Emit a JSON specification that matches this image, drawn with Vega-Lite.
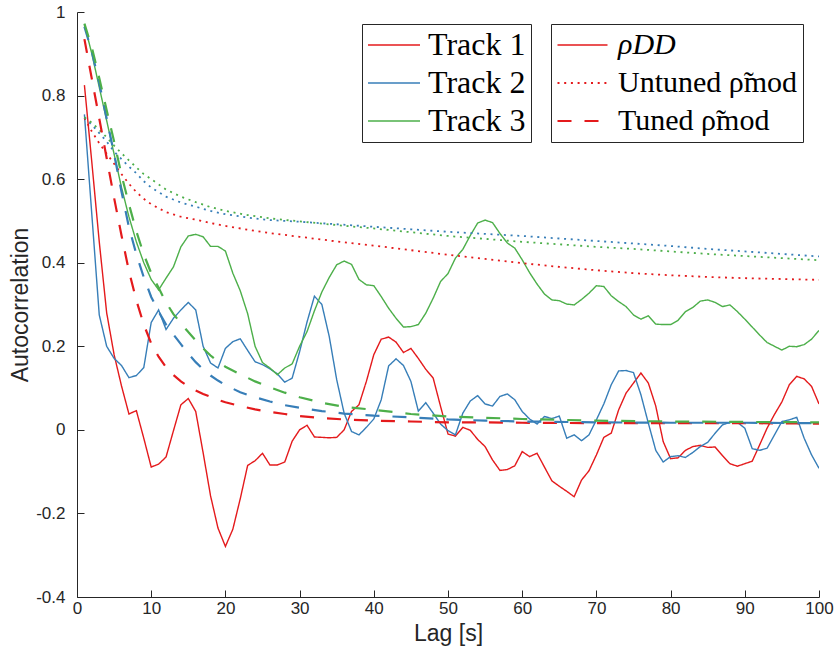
{
  "$schema": "https://vega.github.io/schema/vega-lite/v6.json",
  "autosize": "none",
  "width": 742,
  "height": 585,
  "padding": {"left": 77, "top": 12, "right": 16, "bottom": 63},
  "background": "white",
  "config": {"view": {"stroke": null}},
  "data": {"values": [
{"lag":1,"track":"Track 1","type":"rho","value":0.825},{"lag":2,"track":"Track 1","type":"rho","value":0.64},{"lag":3,"track":"Track 1","type":"rho","value":0.45},{"lag":4,"track":"Track 1","type":"rho","value":0.28},{"lag":5,"track":"Track 1","type":"rho","value":0.18},{"lag":6,"track":"Track 1","type":"rho","value":0.105},{"lag":7,"track":"Track 1","type":"rho","value":0.038},{"lag":8,"track":"Track 1","type":"rho","value":0.046},{"lag":9,"track":"Track 1","type":"rho","value":-0.02},{"lag":10,"track":"Track 1","type":"rho","value":-0.089},
{"lag":11,"track":"Track 1","type":"rho","value":-0.082},{"lag":12,"track":"Track 1","type":"rho","value":-0.065},{"lag":13,"track":"Track 1","type":"rho","value":-0.002},{"lag":14,"track":"Track 1","type":"rho","value":0.06},{"lag":15,"track":"Track 1","type":"rho","value":0.075},{"lag":16,"track":"Track 1","type":"rho","value":0.044},{"lag":17,"track":"Track 1","type":"rho","value":-0.055},{"lag":18,"track":"Track 1","type":"rho","value":-0.158},{"lag":19,"track":"Track 1","type":"rho","value":-0.235},{"lag":20,"track":"Track 1","type":"rho","value":-0.279},
{"lag":21,"track":"Track 1","type":"rho","value":-0.238},{"lag":22,"track":"Track 1","type":"rho","value":-0.165},{"lag":23,"track":"Track 1","type":"rho","value":-0.085},{"lag":24,"track":"Track 1","type":"rho","value":-0.074},{"lag":25,"track":"Track 1","type":"rho","value":-0.056},{"lag":26,"track":"Track 1","type":"rho","value":-0.084},{"lag":27,"track":"Track 1","type":"rho","value":-0.084},{"lag":28,"track":"Track 1","type":"rho","value":-0.077},{"lag":29,"track":"Track 1","type":"rho","value":-0.027},{"lag":30,"track":"Track 1","type":"rho","value":0.0},
{"lag":31,"track":"Track 1","type":"rho","value":0.011},{"lag":32,"track":"Track 1","type":"rho","value":-0.017},{"lag":33,"track":"Track 1","type":"rho","value":-0.018},{"lag":34,"track":"Track 1","type":"rho","value":-0.019},{"lag":35,"track":"Track 1","type":"rho","value":-0.018},{"lag":36,"track":"Track 1","type":"rho","value":0.0},{"lag":37,"track":"Track 1","type":"rho","value":0.044},{"lag":38,"track":"Track 1","type":"rho","value":0.06},{"lag":39,"track":"Track 1","type":"rho","value":0.116},{"lag":40,"track":"Track 1","type":"rho","value":0.18},
{"lag":41,"track":"Track 1","type":"rho","value":0.217},{"lag":42,"track":"Track 1","type":"rho","value":0.222},{"lag":43,"track":"Track 1","type":"rho","value":0.21},{"lag":44,"track":"Track 1","type":"rho","value":0.185},{"lag":45,"track":"Track 1","type":"rho","value":0.195},{"lag":46,"track":"Track 1","type":"rho","value":0.171},{"lag":47,"track":"Track 1","type":"rho","value":0.145},{"lag":48,"track":"Track 1","type":"rho","value":0.124},{"lag":49,"track":"Track 1","type":"rho","value":0.056},{"lag":50,"track":"Track 1","type":"rho","value":-0.01},
{"lag":51,"track":"Track 1","type":"rho","value":-0.015},{"lag":52,"track":"Track 1","type":"rho","value":0.006},{"lag":53,"track":"Track 1","type":"rho","value":-0.001},{"lag":54,"track":"Track 1","type":"rho","value":-0.023},{"lag":55,"track":"Track 1","type":"rho","value":-0.04},{"lag":56,"track":"Track 1","type":"rho","value":-0.072},{"lag":57,"track":"Track 1","type":"rho","value":-0.097},{"lag":58,"track":"Track 1","type":"rho","value":-0.095},{"lag":59,"track":"Track 1","type":"rho","value":-0.086},{"lag":60,"track":"Track 1","type":"rho","value":-0.052},
{"lag":61,"track":"Track 1","type":"rho","value":-0.064},{"lag":62,"track":"Track 1","type":"rho","value":-0.056},{"lag":63,"track":"Track 1","type":"rho","value":-0.089},{"lag":64,"track":"Track 1","type":"rho","value":-0.122},{"lag":65,"track":"Track 1","type":"rho","value":-0.135},{"lag":66,"track":"Track 1","type":"rho","value":-0.147},{"lag":67,"track":"Track 1","type":"rho","value":-0.16},{"lag":68,"track":"Track 1","type":"rho","value":-0.12},{"lag":69,"track":"Track 1","type":"rho","value":-0.098},{"lag":70,"track":"Track 1","type":"rho","value":-0.06},
{"lag":71,"track":"Track 1","type":"rho","value":-0.018},{"lag":72,"track":"Track 1","type":"rho","value":-0.008},{"lag":73,"track":"Track 1","type":"rho","value":0.048},{"lag":74,"track":"Track 1","type":"rho","value":0.088},{"lag":75,"track":"Track 1","type":"rho","value":0.112},{"lag":76,"track":"Track 1","type":"rho","value":0.136},{"lag":77,"track":"Track 1","type":"rho","value":0.112},{"lag":78,"track":"Track 1","type":"rho","value":0.057},{"lag":79,"track":"Track 1","type":"rho","value":-0.028},{"lag":80,"track":"Track 1","type":"rho","value":-0.069},
{"lag":81,"track":"Track 1","type":"rho","value":-0.067},{"lag":82,"track":"Track 1","type":"rho","value":-0.049},{"lag":83,"track":"Track 1","type":"rho","value":-0.04},{"lag":84,"track":"Track 1","type":"rho","value":-0.037},{"lag":85,"track":"Track 1","type":"rho","value":-0.042},{"lag":86,"track":"Track 1","type":"rho","value":-0.041},{"lag":87,"track":"Track 1","type":"rho","value":-0.062},{"lag":88,"track":"Track 1","type":"rho","value":-0.081},{"lag":89,"track":"Track 1","type":"rho","value":-0.087},{"lag":90,"track":"Track 1","type":"rho","value":-0.081},
{"lag":91,"track":"Track 1","type":"rho","value":-0.075},{"lag":92,"track":"Track 1","type":"rho","value":-0.036},{"lag":93,"track":"Track 1","type":"rho","value":0.004},{"lag":94,"track":"Track 1","type":"rho","value":0.037},{"lag":95,"track":"Track 1","type":"rho","value":0.067},{"lag":96,"track":"Track 1","type":"rho","value":0.108},{"lag":97,"track":"Track 1","type":"rho","value":0.128},{"lag":98,"track":"Track 1","type":"rho","value":0.122},{"lag":99,"track":"Track 1","type":"rho","value":0.104},{"lag":100,"track":"Track 1","type":"rho","value":0.062},

{"lag":1,"track":"Track 2","type":"rho","value":0.755},{"lag":2,"track":"Track 2","type":"rho","value":0.515},{"lag":3,"track":"Track 2","type":"rho","value":0.275},{"lag":4,"track":"Track 2","type":"rho","value":0.2},{"lag":5,"track":"Track 2","type":"rho","value":0.171},{"lag":6,"track":"Track 2","type":"rho","value":0.154},{"lag":7,"track":"Track 2","type":"rho","value":0.125},{"lag":8,"track":"Track 2","type":"rho","value":0.13},{"lag":9,"track":"Track 2","type":"rho","value":0.149},{"lag":10,"track":"Track 2","type":"rho","value":0.257},
{"lag":11,"track":"Track 2","type":"rho","value":0.287},{"lag":12,"track":"Track 2","type":"rho","value":0.24},{"lag":13,"track":"Track 2","type":"rho","value":0.267},{"lag":14,"track":"Track 2","type":"rho","value":0.287},{"lag":15,"track":"Track 2","type":"rho","value":0.305},{"lag":16,"track":"Track 2","type":"rho","value":0.287},{"lag":17,"track":"Track 2","type":"rho","value":0.2},{"lag":18,"track":"Track 2","type":"rho","value":0.16},{"lag":19,"track":"Track 2","type":"rho","value":0.148},{"lag":20,"track":"Track 2","type":"rho","value":0.195},
{"lag":21,"track":"Track 2","type":"rho","value":0.211},{"lag":22,"track":"Track 2","type":"rho","value":0.218},{"lag":23,"track":"Track 2","type":"rho","value":0.19},{"lag":24,"track":"Track 2","type":"rho","value":0.163},{"lag":25,"track":"Track 2","type":"rho","value":0.156},{"lag":26,"track":"Track 2","type":"rho","value":0.146},{"lag":27,"track":"Track 2","type":"rho","value":0.134},{"lag":28,"track":"Track 2","type":"rho","value":0.114},{"lag":29,"track":"Track 2","type":"rho","value":0.124},{"lag":30,"track":"Track 2","type":"rho","value":0.187},
{"lag":31,"track":"Track 2","type":"rho","value":0.258},{"lag":32,"track":"Track 2","type":"rho","value":0.32},{"lag":33,"track":"Track 2","type":"rho","value":0.3},{"lag":34,"track":"Track 2","type":"rho","value":0.223},{"lag":35,"track":"Track 2","type":"rho","value":0.12},{"lag":36,"track":"Track 2","type":"rho","value":0.04},{"lag":37,"track":"Track 2","type":"rho","value":-0.004},{"lag":38,"track":"Track 2","type":"rho","value":-0.012},{"lag":39,"track":"Track 2","type":"rho","value":0.006},{"lag":40,"track":"Track 2","type":"rho","value":0.026},
{"lag":41,"track":"Track 2","type":"rho","value":0.072},{"lag":42,"track":"Track 2","type":"rho","value":0.153},{"lag":43,"track":"Track 2","type":"rho","value":0.17},{"lag":44,"track":"Track 2","type":"rho","value":0.154},{"lag":45,"track":"Track 2","type":"rho","value":0.116},{"lag":46,"track":"Track 2","type":"rho","value":0.045},{"lag":47,"track":"Track 2","type":"rho","value":0.065},{"lag":48,"track":"Track 2","type":"rho","value":0.04},{"lag":49,"track":"Track 2","type":"rho","value":0.014},{"lag":50,"track":"Track 2","type":"rho","value":-0.002},
{"lag":51,"track":"Track 2","type":"rho","value":-0.012},{"lag":52,"track":"Track 2","type":"rho","value":0.04},{"lag":53,"track":"Track 2","type":"rho","value":0.069},{"lag":54,"track":"Track 2","type":"rho","value":0.082},{"lag":55,"track":"Track 2","type":"rho","value":0.062},{"lag":56,"track":"Track 2","type":"rho","value":0.057},{"lag":57,"track":"Track 2","type":"rho","value":0.08},{"lag":58,"track":"Track 2","type":"rho","value":0.086},{"lag":59,"track":"Track 2","type":"rho","value":0.072},{"lag":60,"track":"Track 2","type":"rho","value":0.044},
{"lag":61,"track":"Track 2","type":"rho","value":0.026},{"lag":62,"track":"Track 2","type":"rho","value":0.014},{"lag":63,"track":"Track 2","type":"rho","value":0.032},{"lag":64,"track":"Track 2","type":"rho","value":0.027},{"lag":65,"track":"Track 2","type":"rho","value":0.033},{"lag":66,"track":"Track 2","type":"rho","value":-0.02},{"lag":67,"track":"Track 2","type":"rho","value":-0.012},{"lag":68,"track":"Track 2","type":"rho","value":-0.026},{"lag":69,"track":"Track 2","type":"rho","value":-0.012},{"lag":70,"track":"Track 2","type":"rho","value":0.024},
{"lag":71,"track":"Track 2","type":"rho","value":0.062},{"lag":72,"track":"Track 2","type":"rho","value":0.108},{"lag":73,"track":"Track 2","type":"rho","value":0.141},{"lag":74,"track":"Track 2","type":"rho","value":0.142},{"lag":75,"track":"Track 2","type":"rho","value":0.137},{"lag":76,"track":"Track 2","type":"rho","value":0.084},{"lag":77,"track":"Track 2","type":"rho","value":0.016},{"lag":78,"track":"Track 2","type":"rho","value":-0.049},{"lag":79,"track":"Track 2","type":"rho","value":-0.077},{"lag":80,"track":"Track 2","type":"rho","value":-0.064},
{"lag":81,"track":"Track 2","type":"rho","value":-0.062},{"lag":82,"track":"Track 2","type":"rho","value":-0.066},{"lag":83,"track":"Track 2","type":"rho","value":-0.054},{"lag":84,"track":"Track 2","type":"rho","value":-0.04},{"lag":85,"track":"Track 2","type":"rho","value":-0.03},{"lag":86,"track":"Track 2","type":"rho","value":-0.008},{"lag":87,"track":"Track 2","type":"rho","value":0.012},{"lag":88,"track":"Track 2","type":"rho","value":0.018},{"lag":89,"track":"Track 2","type":"rho","value":0.018},{"lag":90,"track":"Track 2","type":"rho","value":0.004},
{"lag":91,"track":"Track 2","type":"rho","value":-0.045},{"lag":92,"track":"Track 2","type":"rho","value":-0.049},{"lag":93,"track":"Track 2","type":"rho","value":-0.044},{"lag":94,"track":"Track 2","type":"rho","value":-0.012},{"lag":95,"track":"Track 2","type":"rho","value":0.02},{"lag":96,"track":"Track 2","type":"rho","value":0.024},{"lag":97,"track":"Track 2","type":"rho","value":0.03},{"lag":98,"track":"Track 2","type":"rho","value":-0.02},{"lag":99,"track":"Track 2","type":"rho","value":-0.06},{"lag":100,"track":"Track 2","type":"rho","value":-0.092},

{"lag":1,"track":"Track 3","type":"rho","value":0.97},{"lag":2,"track":"Track 3","type":"rho","value":0.9},{"lag":3,"track":"Track 3","type":"rho","value":0.82},{"lag":4,"track":"Track 3","type":"rho","value":0.74},{"lag":5,"track":"Track 3","type":"rho","value":0.66},{"lag":6,"track":"Track 3","type":"rho","value":0.58},{"lag":7,"track":"Track 3","type":"rho","value":0.51},{"lag":8,"track":"Track 3","type":"rho","value":0.45},{"lag":9,"track":"Track 3","type":"rho","value":0.4},{"lag":10,"track":"Track 3","type":"rho","value":0.36},
{"lag":11,"track":"Track 3","type":"rho","value":0.335},{"lag":12,"track":"Track 3","type":"rho","value":0.363},{"lag":13,"track":"Track 3","type":"rho","value":0.39},{"lag":14,"track":"Track 3","type":"rho","value":0.438},{"lag":15,"track":"Track 3","type":"rho","value":0.464},{"lag":16,"track":"Track 3","type":"rho","value":0.468},{"lag":17,"track":"Track 3","type":"rho","value":0.462},{"lag":18,"track":"Track 3","type":"rho","value":0.439},{"lag":19,"track":"Track 3","type":"rho","value":0.439},{"lag":20,"track":"Track 3","type":"rho","value":0.428},
{"lag":21,"track":"Track 3","type":"rho","value":0.375},{"lag":22,"track":"Track 3","type":"rho","value":0.333},{"lag":23,"track":"Track 3","type":"rho","value":0.278},{"lag":24,"track":"Track 3","type":"rho","value":0.2},{"lag":25,"track":"Track 3","type":"rho","value":0.161},{"lag":26,"track":"Track 3","type":"rho","value":0.148},{"lag":27,"track":"Track 3","type":"rho","value":0.132},{"lag":28,"track":"Track 3","type":"rho","value":0.148},{"lag":29,"track":"Track 3","type":"rho","value":0.158},{"lag":30,"track":"Track 3","type":"rho","value":0.2},
{"lag":31,"track":"Track 3","type":"rho","value":0.235},{"lag":32,"track":"Track 3","type":"rho","value":0.285},{"lag":33,"track":"Track 3","type":"rho","value":0.33},{"lag":34,"track":"Track 3","type":"rho","value":0.365},{"lag":35,"track":"Track 3","type":"rho","value":0.395},{"lag":36,"track":"Track 3","type":"rho","value":0.404},{"lag":37,"track":"Track 3","type":"rho","value":0.396},{"lag":38,"track":"Track 3","type":"rho","value":0.36},{"lag":39,"track":"Track 3","type":"rho","value":0.347},{"lag":40,"track":"Track 3","type":"rho","value":0.345},
{"lag":41,"track":"Track 3","type":"rho","value":0.319},{"lag":42,"track":"Track 3","type":"rho","value":0.291},{"lag":43,"track":"Track 3","type":"rho","value":0.267},{"lag":44,"track":"Track 3","type":"rho","value":0.246},{"lag":45,"track":"Track 3","type":"rho","value":0.247},{"lag":46,"track":"Track 3","type":"rho","value":0.252},{"lag":47,"track":"Track 3","type":"rho","value":0.279},{"lag":48,"track":"Track 3","type":"rho","value":0.315},{"lag":49,"track":"Track 3","type":"rho","value":0.355},{"lag":50,"track":"Track 3","type":"rho","value":0.374},
{"lag":51,"track":"Track 3","type":"rho","value":0.411},{"lag":52,"track":"Track 3","type":"rho","value":0.432},{"lag":53,"track":"Track 3","type":"rho","value":0.465},{"lag":54,"track":"Track 3","type":"rho","value":0.495},{"lag":55,"track":"Track 3","type":"rho","value":0.502},{"lag":56,"track":"Track 3","type":"rho","value":0.496},{"lag":57,"track":"Track 3","type":"rho","value":0.47},{"lag":58,"track":"Track 3","type":"rho","value":0.447},{"lag":59,"track":"Track 3","type":"rho","value":0.435},{"lag":60,"track":"Track 3","type":"rho","value":0.407},
{"lag":61,"track":"Track 3","type":"rho","value":0.376},{"lag":62,"track":"Track 3","type":"rho","value":0.349},{"lag":63,"track":"Track 3","type":"rho","value":0.325},{"lag":64,"track":"Track 3","type":"rho","value":0.311},{"lag":65,"track":"Track 3","type":"rho","value":0.309},{"lag":66,"track":"Track 3","type":"rho","value":0.301},{"lag":67,"track":"Track 3","type":"rho","value":0.299},{"lag":68,"track":"Track 3","type":"rho","value":0.312},{"lag":69,"track":"Track 3","type":"rho","value":0.327},{"lag":70,"track":"Track 3","type":"rho","value":0.345},
{"lag":71,"track":"Track 3","type":"rho","value":0.343},{"lag":72,"track":"Track 3","type":"rho","value":0.321},{"lag":73,"track":"Track 3","type":"rho","value":0.307},{"lag":74,"track":"Track 3","type":"rho","value":0.295},{"lag":75,"track":"Track 3","type":"rho","value":0.275},{"lag":76,"track":"Track 3","type":"rho","value":0.265},{"lag":77,"track":"Track 3","type":"rho","value":0.273},{"lag":78,"track":"Track 3","type":"rho","value":0.253},{"lag":79,"track":"Track 3","type":"rho","value":0.252},{"lag":80,"track":"Track 3","type":"rho","value":0.252},
{"lag":81,"track":"Track 3","type":"rho","value":0.262},{"lag":82,"track":"Track 3","type":"rho","value":0.283},{"lag":83,"track":"Track 3","type":"rho","value":0.293},{"lag":84,"track":"Track 3","type":"rho","value":0.308},{"lag":85,"track":"Track 3","type":"rho","value":0.311},{"lag":86,"track":"Track 3","type":"rho","value":0.305},{"lag":87,"track":"Track 3","type":"rho","value":0.295},{"lag":88,"track":"Track 3","type":"rho","value":0.299},{"lag":89,"track":"Track 3","type":"rho","value":0.283},{"lag":90,"track":"Track 3","type":"rho","value":0.265},
{"lag":91,"track":"Track 3","type":"rho","value":0.246},{"lag":92,"track":"Track 3","type":"rho","value":0.227},{"lag":93,"track":"Track 3","type":"rho","value":0.209},{"lag":94,"track":"Track 3","type":"rho","value":0.2},{"lag":95,"track":"Track 3","type":"rho","value":0.191},{"lag":96,"track":"Track 3","type":"rho","value":0.2},{"lag":97,"track":"Track 3","type":"rho","value":0.199},{"lag":98,"track":"Track 3","type":"rho","value":0.204},{"lag":99,"track":"Track 3","type":"rho","value":0.217},{"lag":100,"track":"Track 3","type":"rho","value":0.238},

{"lag":1,"track":"Track 1","type":"untuned","value":0.746},{"lag":2,"track":"Track 1","type":"untuned","value":0.714},{"lag":3,"track":"Track 1","type":"untuned","value":0.686},{"lag":4,"track":"Track 1","type":"untuned","value":0.661},{"lag":5,"track":"Track 1","type":"untuned","value":0.637},{"lag":6,"track":"Track 1","type":"untuned","value":0.612},{"lag":7,"track":"Track 1","type":"untuned","value":0.589},{"lag":8,"track":"Track 1","type":"untuned","value":0.569},{"lag":9,"track":"Track 1","type":"untuned","value":0.553},{"lag":10,"track":"Track 1","type":"untuned","value":0.54},
{"lag":12,"track":"Track 1","type":"untuned","value":0.521},{"lag":14,"track":"Track 1","type":"untuned","value":0.51},{"lag":16,"track":"Track 1","type":"untuned","value":0.503},{"lag":18,"track":"Track 1","type":"untuned","value":0.495},{"lag":20,"track":"Track 1","type":"untuned","value":0.488},{"lag":23,"track":"Track 1","type":"untuned","value":0.479},{"lag":26,"track":"Track 1","type":"untuned","value":0.471},{"lag":30,"track":"Track 1","type":"untuned","value":0.462},{"lag":35,"track":"Track 1","type":"untuned","value":0.451},{"lag":40,"track":"Track 1","type":"untuned","value":0.441},
{"lag":45,"track":"Track 1","type":"untuned","value":0.43},{"lag":50,"track":"Track 1","type":"untuned","value":0.419},{"lag":55,"track":"Track 1","type":"untuned","value":0.409},{"lag":60,"track":"Track 1","type":"untuned","value":0.399},{"lag":65,"track":"Track 1","type":"untuned","value":0.39},{"lag":70,"track":"Track 1","type":"untuned","value":0.382},{"lag":75,"track":"Track 1","type":"untuned","value":0.375},{"lag":80,"track":"Track 1","type":"untuned","value":0.37},{"lag":85,"track":"Track 1","type":"untuned","value":0.366},{"lag":90,"track":"Track 1","type":"untuned","value":0.363},{"lag":95,"track":"Track 1","type":"untuned","value":0.361},{"lag":100,"track":"Track 1","type":"untuned","value":0.359},

{"lag":1,"track":"Track 2","type":"untuned","value":0.747},{"lag":2,"track":"Track 2","type":"untuned","value":0.73},{"lag":3,"track":"Track 2","type":"untuned","value":0.71},{"lag":4,"track":"Track 2","type":"untuned","value":0.69},{"lag":5,"track":"Track 2","type":"untuned","value":0.666},{"lag":6,"track":"Track 2","type":"untuned","value":0.648},{"lag":7,"track":"Track 2","type":"untuned","value":0.63},{"lag":8,"track":"Track 2","type":"untuned","value":0.614},{"lag":9,"track":"Track 2","type":"untuned","value":0.595},{"lag":10,"track":"Track 2","type":"untuned","value":0.58},
{"lag":12,"track":"Track 2","type":"untuned","value":0.558},{"lag":14,"track":"Track 2","type":"untuned","value":0.544},{"lag":16,"track":"Track 2","type":"untuned","value":0.534},{"lag":18,"track":"Track 2","type":"untuned","value":0.524},{"lag":20,"track":"Track 2","type":"untuned","value":0.516},{"lag":23,"track":"Track 2","type":"untuned","value":0.508},{"lag":26,"track":"Track 2","type":"untuned","value":0.502},{"lag":30,"track":"Track 2","type":"untuned","value":0.498},{"lag":35,"track":"Track 2","type":"untuned","value":0.492},{"lag":40,"track":"Track 2","type":"untuned","value":0.486},
{"lag":45,"track":"Track 2","type":"untuned","value":0.48},{"lag":50,"track":"Track 2","type":"untuned","value":0.474},{"lag":55,"track":"Track 2","type":"untuned","value":0.469},{"lag":60,"track":"Track 2","type":"untuned","value":0.464},{"lag":65,"track":"Track 2","type":"untuned","value":0.458},{"lag":70,"track":"Track 2","type":"untuned","value":0.452},{"lag":75,"track":"Track 2","type":"untuned","value":0.446},{"lag":80,"track":"Track 2","type":"untuned","value":0.44},{"lag":85,"track":"Track 2","type":"untuned","value":0.433},{"lag":90,"track":"Track 2","type":"untuned","value":0.427},{"lag":95,"track":"Track 2","type":"untuned","value":0.421},{"lag":100,"track":"Track 2","type":"untuned","value":0.415},

{"lag":1,"track":"Track 3","type":"untuned","value":0.748},{"lag":2,"track":"Track 3","type":"untuned","value":0.735},{"lag":3,"track":"Track 3","type":"untuned","value":0.718},{"lag":4,"track":"Track 3","type":"untuned","value":0.7},{"lag":5,"track":"Track 3","type":"untuned","value":0.68},{"lag":6,"track":"Track 3","type":"untuned","value":0.662},{"lag":7,"track":"Track 3","type":"untuned","value":0.645},{"lag":8,"track":"Track 3","type":"untuned","value":0.628},{"lag":9,"track":"Track 3","type":"untuned","value":0.612},{"lag":10,"track":"Track 3","type":"untuned","value":0.6},
{"lag":12,"track":"Track 3","type":"untuned","value":0.575},{"lag":14,"track":"Track 3","type":"untuned","value":0.558},{"lag":16,"track":"Track 3","type":"untuned","value":0.545},{"lag":18,"track":"Track 3","type":"untuned","value":0.533},{"lag":20,"track":"Track 3","type":"untuned","value":0.524},{"lag":23,"track":"Track 3","type":"untuned","value":0.514},{"lag":26,"track":"Track 3","type":"untuned","value":0.506},{"lag":30,"track":"Track 3","type":"untuned","value":0.499},{"lag":35,"track":"Track 3","type":"untuned","value":0.49},{"lag":40,"track":"Track 3","type":"untuned","value":0.482},
{"lag":45,"track":"Track 3","type":"untuned","value":0.473},{"lag":50,"track":"Track 3","type":"untuned","value":0.464},{"lag":55,"track":"Track 3","type":"untuned","value":0.457},{"lag":60,"track":"Track 3","type":"untuned","value":0.45},{"lag":65,"track":"Track 3","type":"untuned","value":0.444},{"lag":70,"track":"Track 3","type":"untuned","value":0.438},{"lag":75,"track":"Track 3","type":"untuned","value":0.433},{"lag":80,"track":"Track 3","type":"untuned","value":0.427},{"lag":85,"track":"Track 3","type":"untuned","value":0.421},{"lag":90,"track":"Track 3","type":"untuned","value":0.416},{"lag":95,"track":"Track 3","type":"untuned","value":0.411},{"lag":100,"track":"Track 3","type":"untuned","value":0.406},

{"lag":1,"track":"Track 1","type":"tuned","value":0.935},{"lag":2,"track":"Track 1","type":"tuned","value":0.84},{"lag":3,"track":"Track 1","type":"tuned","value":0.745},{"lag":4,"track":"Track 1","type":"tuned","value":0.65},{"lag":5,"track":"Track 1","type":"tuned","value":0.555},{"lag":6,"track":"Track 1","type":"tuned","value":0.465},{"lag":7,"track":"Track 1","type":"tuned","value":0.38},{"lag":8,"track":"Track 1","type":"tuned","value":0.31},{"lag":9,"track":"Track 1","type":"tuned","value":0.252},{"lag":10,"track":"Track 1","type":"tuned","value":0.207},
{"lag":11,"track":"Track 1","type":"tuned","value":0.175},{"lag":12,"track":"Track 1","type":"tuned","value":0.15},{"lag":13,"track":"Track 1","type":"tuned","value":0.131},{"lag":14,"track":"Track 1","type":"tuned","value":0.116},{"lag":15,"track":"Track 1","type":"tuned","value":0.104},{"lag":16,"track":"Track 1","type":"tuned","value":0.094},{"lag":17,"track":"Track 1","type":"tuned","value":0.086},{"lag":18,"track":"Track 1","type":"tuned","value":0.079},{"lag":19,"track":"Track 1","type":"tuned","value":0.072},{"lag":20,"track":"Track 1","type":"tuned","value":0.066},
{"lag":22,"track":"Track 1","type":"tuned","value":0.057},{"lag":24,"track":"Track 1","type":"tuned","value":0.049},{"lag":26,"track":"Track 1","type":"tuned","value":0.043},{"lag":28,"track":"Track 1","type":"tuned","value":0.038},{"lag":30,"track":"Track 1","type":"tuned","value":0.033},{"lag":33,"track":"Track 1","type":"tuned","value":0.028},{"lag":36,"track":"Track 1","type":"tuned","value":0.025},{"lag":40,"track":"Track 1","type":"tuned","value":0.022},{"lag":45,"track":"Track 1","type":"tuned","value":0.02},{"lag":50,"track":"Track 1","type":"tuned","value":0.018},
{"lag":55,"track":"Track 1","type":"tuned","value":0.018},{"lag":60,"track":"Track 1","type":"tuned","value":0.017},{"lag":70,"track":"Track 1","type":"tuned","value":0.016},{"lag":80,"track":"Track 1","type":"tuned","value":0.016},{"lag":90,"track":"Track 1","type":"tuned","value":0.016},{"lag":100,"track":"Track 1","type":"tuned","value":0.015},

{"lag":1,"track":"Track 2","type":"tuned","value":0.965},{"lag":2,"track":"Track 2","type":"tuned","value":0.905},{"lag":3,"track":"Track 2","type":"tuned","value":0.83},{"lag":4,"track":"Track 2","type":"tuned","value":0.745},{"lag":5,"track":"Track 2","type":"tuned","value":0.66},{"lag":6,"track":"Track 2","type":"tuned","value":0.57},{"lag":7,"track":"Track 2","type":"tuned","value":0.485},{"lag":8,"track":"Track 2","type":"tuned","value":0.42},{"lag":9,"track":"Track 2","type":"tuned","value":0.365},{"lag":10,"track":"Track 2","type":"tuned","value":0.318},
{"lag":11,"track":"Track 2","type":"tuned","value":0.283},{"lag":12,"track":"Track 2","type":"tuned","value":0.252},{"lag":13,"track":"Track 2","type":"tuned","value":0.228},{"lag":14,"track":"Track 2","type":"tuned","value":0.205},{"lag":15,"track":"Track 2","type":"tuned","value":0.182},{"lag":16,"track":"Track 2","type":"tuned","value":0.162},{"lag":17,"track":"Track 2","type":"tuned","value":0.145},{"lag":18,"track":"Track 2","type":"tuned","value":0.13},{"lag":19,"track":"Track 2","type":"tuned","value":0.118},{"lag":20,"track":"Track 2","type":"tuned","value":0.107},
{"lag":22,"track":"Track 2","type":"tuned","value":0.09},{"lag":24,"track":"Track 2","type":"tuned","value":0.078},{"lag":26,"track":"Track 2","type":"tuned","value":0.068},{"lag":28,"track":"Track 2","type":"tuned","value":0.059},{"lag":30,"track":"Track 2","type":"tuned","value":0.053},{"lag":33,"track":"Track 2","type":"tuned","value":0.045},{"lag":36,"track":"Track 2","type":"tuned","value":0.039},{"lag":40,"track":"Track 2","type":"tuned","value":0.034},{"lag":45,"track":"Track 2","type":"tuned","value":0.03},{"lag":50,"track":"Track 2","type":"tuned","value":0.025},
{"lag":55,"track":"Track 2","type":"tuned","value":0.022},{"lag":60,"track":"Track 2","type":"tuned","value":0.02},{"lag":70,"track":"Track 2","type":"tuned","value":0.018},{"lag":80,"track":"Track 2","type":"tuned","value":0.017},{"lag":90,"track":"Track 2","type":"tuned","value":0.017},{"lag":100,"track":"Track 2","type":"tuned","value":0.016},

{"lag":1,"track":"Track 3","type":"tuned","value":0.972},{"lag":2,"track":"Track 3","type":"tuned","value":0.915},{"lag":3,"track":"Track 3","type":"tuned","value":0.842},{"lag":4,"track":"Track 3","type":"tuned","value":0.765},{"lag":5,"track":"Track 3","type":"tuned","value":0.69},{"lag":6,"track":"Track 3","type":"tuned","value":0.61},{"lag":7,"track":"Track 3","type":"tuned","value":0.54},{"lag":8,"track":"Track 3","type":"tuned","value":0.475},{"lag":9,"track":"Track 3","type":"tuned","value":0.42},{"lag":10,"track":"Track 3","type":"tuned","value":0.375},
{"lag":11,"track":"Track 3","type":"tuned","value":0.34},{"lag":12,"track":"Track 3","type":"tuned","value":0.305},{"lag":13,"track":"Track 3","type":"tuned","value":0.277},{"lag":14,"track":"Track 3","type":"tuned","value":0.255},{"lag":15,"track":"Track 3","type":"tuned","value":0.234},{"lag":16,"track":"Track 3","type":"tuned","value":0.214},{"lag":17,"track":"Track 3","type":"tuned","value":0.195},{"lag":18,"track":"Track 3","type":"tuned","value":0.178},{"lag":19,"track":"Track 3","type":"tuned","value":0.163},{"lag":20,"track":"Track 3","type":"tuned","value":0.151},
{"lag":22,"track":"Track 3","type":"tuned","value":0.133},{"lag":24,"track":"Track 3","type":"tuned","value":0.116},{"lag":26,"track":"Track 3","type":"tuned","value":0.102},{"lag":28,"track":"Track 3","type":"tuned","value":0.089},{"lag":30,"track":"Track 3","type":"tuned","value":0.078},{"lag":33,"track":"Track 3","type":"tuned","value":0.065},{"lag":36,"track":"Track 3","type":"tuned","value":0.055},{"lag":40,"track":"Track 3","type":"tuned","value":0.048},{"lag":45,"track":"Track 3","type":"tuned","value":0.038},{"lag":50,"track":"Track 3","type":"tuned","value":0.032},
{"lag":55,"track":"Track 3","type":"tuned","value":0.029},{"lag":60,"track":"Track 3","type":"tuned","value":0.026},{"lag":70,"track":"Track 3","type":"tuned","value":0.022},{"lag":80,"track":"Track 3","type":"tuned","value":0.02},{"lag":90,"track":"Track 3","type":"tuned","value":0.019},{"lag":100,"track":"Track 3","type":"tuned","value":0.018}
  ]},
  "mark": {"type": "line", "strokeCap": "butt", "clip": true},
  "encoding": {
    "x": {"field": "lag", "type": "quantitative",
      "scale": {"domain": [0, 100], "nice": false},
      "axis": {"title": "Lag [s]", "values": [0,10,20,30,40,50,60,70,80,90,100], "grid": false,
        "tickSize": -7, "labelPadding": 10, "labelFlush": false, "labelOverlap": false,
        "labelFont": "Liberation Sans", "labelFontSize": 17, "labelColor": "#262626",
        "titleFont": "Liberation Sans", "titleFontSize": 23, "titleFontWeight": "normal", "titleColor": "#262626", "titlePadding": 6,
        "domainColor": "#262626", "tickColor": "#262626", "domainWidth": 1, "tickWidth": 1}},
    "y": {"field": "value", "type": "quantitative",
      "scale": {"domain": [-0.4, 1], "nice": false, "zero": false},
      "axis": {"title": "Autocorrelation", "values": [-0.4,-0.2,0,0.2,0.4,0.6,0.8,1], "grid": false,
        "labelExpr": "datum.value < 0 ? '-' + format(-datum.value, '~g') : format(datum.value, '~g')",
        "tickSize": -7, "labelPadding": 19, "labelFlush": false, "labelOverlap": false,
        "labelFont": "Liberation Sans", "labelFontSize": 17, "labelColor": "#262626",
        "titleFont": "Liberation Sans", "titleFontSize": 23, "titleFontWeight": "normal", "titleColor": "#262626", "titlePadding": 3,
        "domainColor": "#262626", "tickColor": "#262626", "domainWidth": 1, "tickWidth": 1}},
    "color": {"field": "track", "type": "nominal",
      "scale": {"domain": ["Track 1", "Track 2", "Track 3"], "range": ["#e41a1c", "#377eb8", "#4daf4a"]},
      "legend": {"orient": "none", "legendX": 285, "legendY": 12, "title": null, "direction": "vertical",
        "symbolType": "stroke", "symbolSize": 2704, "symbolStrokeWidth": 1.5, "clipHeight": 32,
        "labelFont": "Liberation Serif", "labelFontSize": 32, "labelColor": "black", "labelOffset": 7, "labelLimit": 500,
        "padding": 5, "rowPadding": 6, "strokeColor": "#262626", "fillColor": "white"}},
    "strokeDash": {"field": "type", "type": "nominal",
      "scale": {"domain": ["rho", "untuned", "tuned"], "range": [[1, 0], [2, 4.7], [14, 13]]},
      "legend": {"orient": "none", "legendX": 474, "legendY": 12, "title": null, "direction": "vertical",
        "symbolType": "stroke", "symbolSize": 2500, "symbolStrokeColor": "#e41a1c", "clipHeight": 32,
        "labelExpr": "datum.value == 'rho' ? 'ρDD' : datum.value == 'untuned' ? 'Untuned ρ̃mod' : 'Tuned ρ̃mod'",
        "labelFont": "Liberation Serif", "labelFontSize": 30, "labelColor": "black", "labelOffset": 9, "labelLimit": 500,
        "padding": 5, "rowPadding": 6, "strokeColor": "#262626", "fillColor": "white",
        "encode": {"labels": {"update": {"fontStyle": {"signal": "datum.value == 'rho' ? 'italic' : 'normal'"}}}}}},
    "strokeWidth": {"field": "type", "type": "nominal",
      "scale": {"domain": ["rho", "untuned", "tuned"], "range": [1.4, 2.2, 3.2]},
      "legend": {"orient": "none", "legendX": 474, "legendY": 12, "title": null, "direction": "vertical",
        "symbolType": "stroke", "symbolSize": 2500, "symbolStrokeColor": "#e41a1c", "clipHeight": 32,
        "labelExpr": "datum.value == 'rho' ? 'ρDD' : datum.value == 'untuned' ? 'Untuned ρ̃mod' : 'Tuned ρ̃mod'",
        "labelFont": "Liberation Serif", "labelFontSize": 30, "labelColor": "black", "labelOffset": 9, "labelLimit": 500,
        "padding": 5, "rowPadding": 6, "strokeColor": "#262626", "fillColor": "white",
        "encode": {"labels": {"update": {"fontStyle": {"signal": "datum.value == 'rho' ? 'italic' : 'normal'"}}}}}},
    "order": {"field": "lag", "type": "quantitative"}
  }
}
